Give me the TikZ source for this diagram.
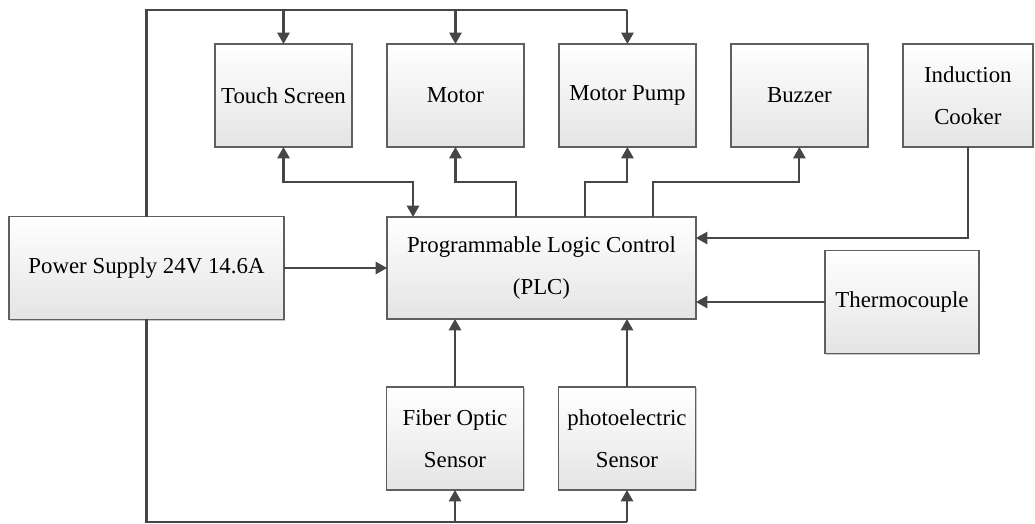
\documentclass[tikz,border=0pt]{standalone}
\usepackage{fontspec}
\setmainfont{Liberation Serif}
\usepackage{tikz}
\usetikzlibrary{positioning,arrows.meta,calc,shadows}
\definecolor{wire}{RGB}{70,70,70}
\definecolor{edge}{RGB}{95,95,95}
\definecolor{shade}{RGB}{228,228,228}
\tikzset{
  blk/.style={draw=edge, line width=0.9pt, top color=white, bottom color=shade,
              general shadow={fill=black!22, shadow xshift=0.7pt, shadow yshift=-0.7pt},
              minimum width=2.74cm, minimum height=2.06cm, align=center,
              inner sep=2pt, outer sep=0pt, font=\fontsize{13}{24}\selectfont},
  arrow/.style={-{Triangle[length=6.5pt,width=7pt]}, line width=1.2pt, draw=wire},
  dblarrow/.style={{Triangle[length=6.5pt,width=7pt]}-{Triangle[length=6.5pt,width=7pt]}, line width=1.2pt, draw=wire},
  wireline/.style={line width=1.2pt, draw=wire},
}
\begin{document}
\begin{tikzpicture}[x=0.02cm, y=-0.02cm, node distance=0.7cm and 0.7cm]
  \useasboundingbox (0,0) rectangle (1035,524);
  \node[blk]                     (touch)  at (283.5,95.5) {Touch Screen};
  \node[blk, right=of touch]     (motor)  {Motor};
  \node[blk, right=of motor]     (pump)   {Motor Pump};
  \node[blk, right=of pump]      (buzzer) {Buzzer};
  \node[blk, right=of buzzer, minimum width=2.6cm] (cooker) {Induction\\Cooker};
  \node[blk, minimum width=6.18cm, minimum height=2.04cm] (plc) at (541.5,268) {Programmable Logic Control\\(PLC)};
  \node[blk, minimum width=5.5cm] (psu) at (146.5,268) {Power Supply 24V 14.6A};
  \node[blk, minimum width=3.08cm] (thermo) at (902,302) {Thermocouple};
  \node[blk]                     (fiber)  at (455,438.5) {Fiber Optic\\Sensor};
  \node[blk, right=of fiber]     (photo)  {photoelectric\\Sensor};

  \coordinate (topbus) at (146.5,10);
  \coordinate (midrow) at (0,182);
  \coordinate (botbus) at (146.5,522);

  \draw[wireline] (psu.north) -- (topbus) -- (topbus -| pump.north);
  \foreach \n in {touch,motor,pump}
    \draw[arrow] (topbus -| \n.north) -- (\n.north);

  \draw[dblarrow] (touch.south) |- ($(plc.north west)+(26,-35)$) -- ($(plc.north west)+(26,0)$);
  \draw[arrow] ($(plc.north west)+(129,0)$) |- (motor.south |- midrow) -- (motor.south);
  \draw[arrow] ($(plc.north west)+(198,0)$) |- (pump.south |- midrow) -- (pump.south);
  \draw[arrow] ($(plc.north west)+(266,0)$) |- (buzzer.south |- midrow) -- (buzzer.south);

  \draw[arrow] (cooker.south) |- ($(plc.north east)+(0,21)$);
  \draw[arrow] (thermo.west) -- (thermo.west -| plc.east);
  \draw[arrow] (psu.east) -- (psu.east -| plc.west);

  \draw[arrow] (fiber.north) -- (fiber.north |- plc.south);
  \draw[arrow] (photo.north) -- (photo.north |- plc.south);

  \draw[wireline] (psu.south) -- (botbus) -- (botbus -| photo.south);
  \foreach \n in {fiber,photo}
    \draw[arrow] (botbus -| \n.south) -- (\n.south);
\end{tikzpicture}
\end{document}
